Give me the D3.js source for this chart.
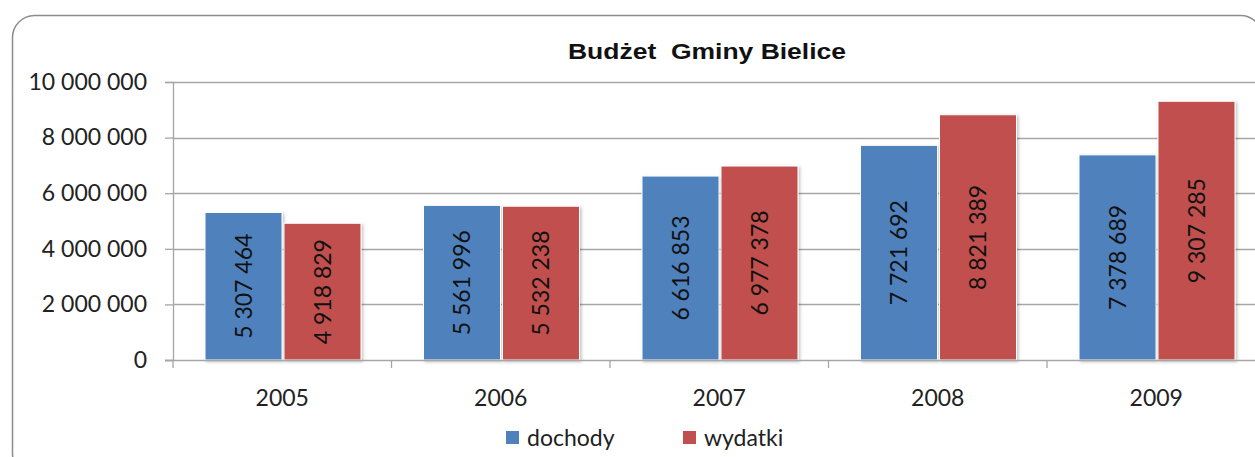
<!DOCTYPE html>
<html>
<head>
<meta charset="utf-8">
<script src="https://cdn.jsdelivr.net/npm/d3@7"></script>
<style>
  body { margin: 0; background: #fff; }
  svg { display: block; font-family: Lato, "Open Sans", sans-serif; }
</style>
</head>
<body>
<div class="chart"></div>
<script>
var svgWidth = 1255;
var svgHeight = 457;

// data
var years = ["2005", "2006", "2007", "2008", "2009"];
var seriesNames = ["dochody", "wydatki"];
var dochody = [5307464, 5561996, 6616853, 7721692, 7378689];
var wydatki = [4918829, 5532238, 6977378, 8821389, 9307285];
var yTicks = [0, 2000000, 4000000, 6000000, 8000000, 10000000];
var colors = ["#4F81BD", "#C0504D"];

var margin = { top: 82, left: 173 };
var height = 278;
var bandW = 218.5;

// format with spaces as thousand separator
var fmt = d => d3.format(",")(d).replace(/,/g, " ");

var svg = d3.select(".chart")
  .append("svg")
  .attr("width", svgWidth)
  .attr("height", svgHeight);

var defs = svg.append("defs");
defs.append("filter").attr("id", "shadow")
  .attr("x", "-10%").attr("y", "-10%").attr("width", "130%").attr("height", "130%")
  .append("feDropShadow")
  .attr("dx", 1.5).attr("dy", 1.5).attr("stdDeviation", 1.5)
  .attr("flood-color", "#000").attr("flood-opacity", 0.25);

// outer frame
svg.append("rect")
  .attr("x", 12.5).attr("y", 15.5)
  .attr("width", 1250).attr("height", 460)
  .attr("rx", 22).attr("ry", 22)
  .attr("fill", "#fff")
  .attr("stroke", "#8c8c8c")
  .attr("stroke-width", 1.5);

// title
svg.append("text")
  .attr("x", 707).attr("y", 59)
  .attr("text-anchor", "middle")
  .attr("font-family", "'Liberation Sans', Arial, sans-serif")
  .attr("font-weight", "bold")
  .attr("font-size", 22)
  .attr("fill", "#111")
  .attr("textLength", 278)
  .attr("lengthAdjust", "spacingAndGlyphs")
  .style("white-space", "pre")
  .text("Budżet  Gminy Bielice");

var chartGroup = svg.append("g")
  .attr("transform", `translate(${margin.left}, ${margin.top})`);

// scales
var xScale = d3.scaleBand()
  .domain(years)
  .range([0, bandW * years.length]);

var xInner = d3.scaleBand()
  .domain(seriesNames)
  .range([32, 188])
  .paddingInner(0.025);

var yScale = d3.scaleLinear()
  .domain([0, 10000000])
  .range([height, 0]);

// gridlines
chartGroup.append("g")
  .selectAll("line")
  .data(yTicks.slice(1))
  .enter()
  .append("line")
  .attr("x1", 0).attr("x2", bandW * years.length)
  .attr("y1", d => Math.round(yScale(d)) + 0.5)
  .attr("y2", d => Math.round(yScale(d)) + 0.5)
  .attr("stroke", "#a6a6a6")
  .attr("stroke-width", 1.3);

// y axis
var yAxis = d3.axisLeft(yScale)
  .tickValues(yTicks)
  .tickSize(8)
  .tickPadding(18)
  .tickFormat(fmt);

var yG = chartGroup.append("g").call(yAxis);
yG.select(".domain").attr("stroke", "#a6a6a6").attr("stroke-width", 1.3);
yG.selectAll(".tick line").attr("stroke", "#a6a6a6").attr("stroke-width", 1.3);
yG.selectAll("text")
  .attr("font-size", 23)
  .attr("font-family", "Lato, sans-serif")
  .attr("fill", "#222");

// bars
var data = years.map((y, i) => ({ year: y, values: [dochody[i], wydatki[i]] }));

var groups = chartGroup.selectAll(".grp")
  .data(data)
  .enter()
  .append("g")
  .attr("class", "grp")
  .attr("transform", d => `translate(${xScale(d.year)}, 0)`);

groups.selectAll("rect")
  .data(d => d.values.map((v, j) => ({ name: seriesNames[j], value: v, j: j })))
  .enter()
  .append("rect")
  .attr("x", d => xInner(d.name))
  .attr("y", d => yScale(d.value))
  .attr("width", xInner.bandwidth())
  .attr("height", d => height - yScale(d.value))
  .attr("fill", d => colors[d.j])
  .attr("stroke", "#fff")
  .attr("stroke-width", 1)
  .attr("filter", "url(#shadow)");

// data labels, rotated
groups.selectAll(".lbl")
  .data(d => d.values.map((v, j) => ({ name: seriesNames[j], value: v })))
  .enter()
  .append("text")
  .attr("class", "lbl")
  .attr("transform", d => {
    var cx = xInner(d.name) + xInner.bandwidth() / 2;
    var cy = (yScale(d.value) + height) / 2;
    return `translate(${cx}, ${cy}) rotate(-90)`;
  })
  .attr("text-anchor", "middle")
  .attr("dy", "0.36em")
  .attr("font-size", 23)
  .attr("fill", "#111")
  .text(d => fmt(d.value));

// x axis
var xAxis = d3.axisBottom(xScale).tickSize(0).tickPadding(30);
var xG = chartGroup.append("g")
  .attr("transform", `translate(0, ${height})`)
  .call(xAxis);
xG.select(".domain").remove();
xG.append("line")
  .attr("x1", -8).attr("x2", bandW * years.length)
  .attr("y1", 0.5).attr("y2", 0.5)
  .attr("stroke", "#a6a6a6").attr("stroke-width", 1.3);
xG.selectAll(".sep")
  .data(d3.range(years.length + 1))
  .enter()
  .append("line")
  .attr("class", "sep")
  .attr("x1", i => i * bandW).attr("x2", i => i * bandW)
  .attr("y1", 0).attr("y2", 8)
  .attr("stroke", "#a6a6a6").attr("stroke-width", 1.3);
xG.selectAll(".tick text")
  .attr("font-size", 23)
  .attr("font-family", "Lato, sans-serif")
  .attr("fill", "#222");

// legend
var legendX = [506, 683];
var legend = svg.append("g");
seriesNames.forEach((name, i) => {
  legend.append("rect")
    .attr("x", legendX[i]).attr("y", 431)
    .attr("width", 13).attr("height", 13)
    .attr("fill", colors[i]);
  legend.append("text")
    .attr("x", legendX[i] + 21).attr("y", 446)
    .attr("font-size", 23)
    .attr("fill", "#222")
    .text(name);
});
</script>
</body>
</html>
